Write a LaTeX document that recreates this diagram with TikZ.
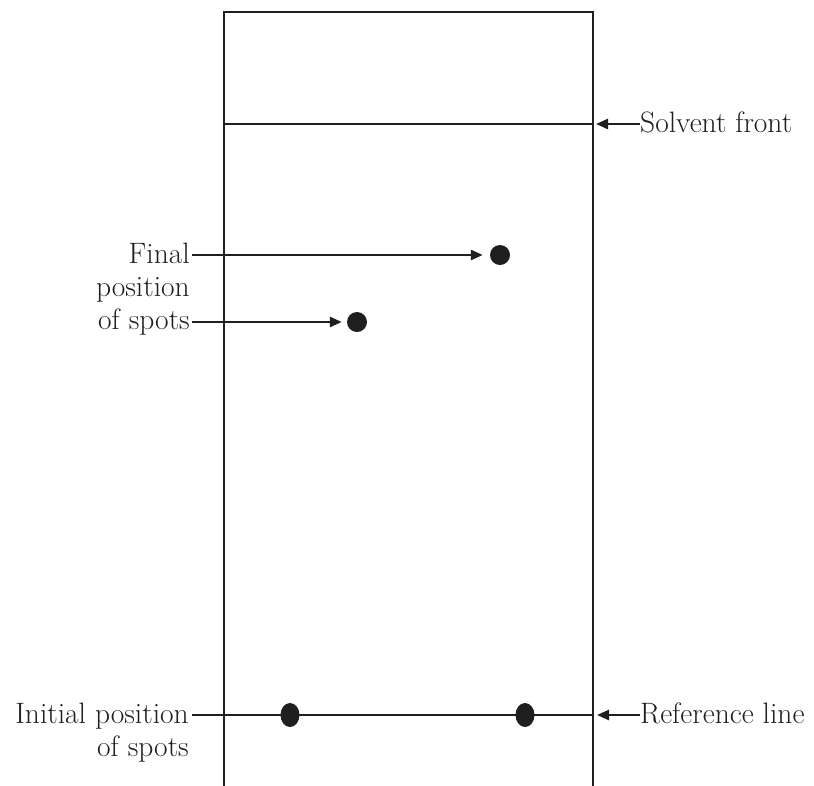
\documentclass[tikz,border=0pt]{standalone}
\usetikzlibrary{arrows.meta,shapes.geometric}
\begin{document}
\begin{tikzpicture}[x=1pt,y=-1pt,
  ln/.style={line width=2.6pt,draw=black!88},
  arr/.style={ln,-{Triangle[length=12pt,width=10pt]}},
  lbl/.style={font=\fontsize{29.5}{36}\selectfont,inner sep=0pt,text=black!88},
  spot/.style={circle,fill=black!88,inner sep=0pt,minimum size=20pt},
  ispot/.style={ellipse,fill=black!88,inner sep=0pt,minimum width=19pt,minimum height=24pt}]
\useasboundingbox (0,0) rectangle (814,785);
% plate
\coordinate (bl) at (224,785);
\coordinate (tl) at (224,12);
\coordinate (tr) at (593,12);
\coordinate (br) at (593,785);
\draw[ln,line cap=rect] (bl) -- (tl) -- (tr) -- (br);
% solvent front
\coordinate (sfl) at (224,124);
\coordinate (sfr) at (593,124);
\draw[ln] (sfl) -- (sfr);
\node[lbl,anchor=base west] (sf) at (640,132) {Solvent front};
\coordinate (sft) at (596,124);
\draw[arr] (sf.west |- sft) -- (sft);
% final positions
\node[spot] (d1) at (500,255) {};
\node[spot] (d2) at (357,322) {};
\node[lbl,anchor=base east] (f1) at (190,263) {Final};
\node[lbl,anchor=base east] (f2) at (190,296) {position};
\node[lbl,anchor=base east] (f3) at (190,329) {of spots};
\draw[arr] ([xshift=2pt]f1.east |- d1) -- ([xshift=-7pt]d1.west);
\draw[arr] ([xshift=2pt]f3.east |- d2) -- ([xshift=-5pt]d2.west);
% reference line
\node[lbl,anchor=base east] (i1) at (189,723) {Initial position};
\node[lbl,anchor=base east] (i2) at (189,756) {of spots};
\coordinate (rr) at (593,715);
\draw[ln] ([xshift=3pt]i1.east |- rr) -- (rr);
\node[ispot] (s1) at (290,715) {};
\node[ispot] (s2) at (525,715) {};
\node[lbl,anchor=base west] (rl) at (640,723) {Reference line};
\coordinate (rlt) at (597,715);
\draw[arr] (rl.west |- rlt) -- (rlt);
\end{tikzpicture}
\end{document}
